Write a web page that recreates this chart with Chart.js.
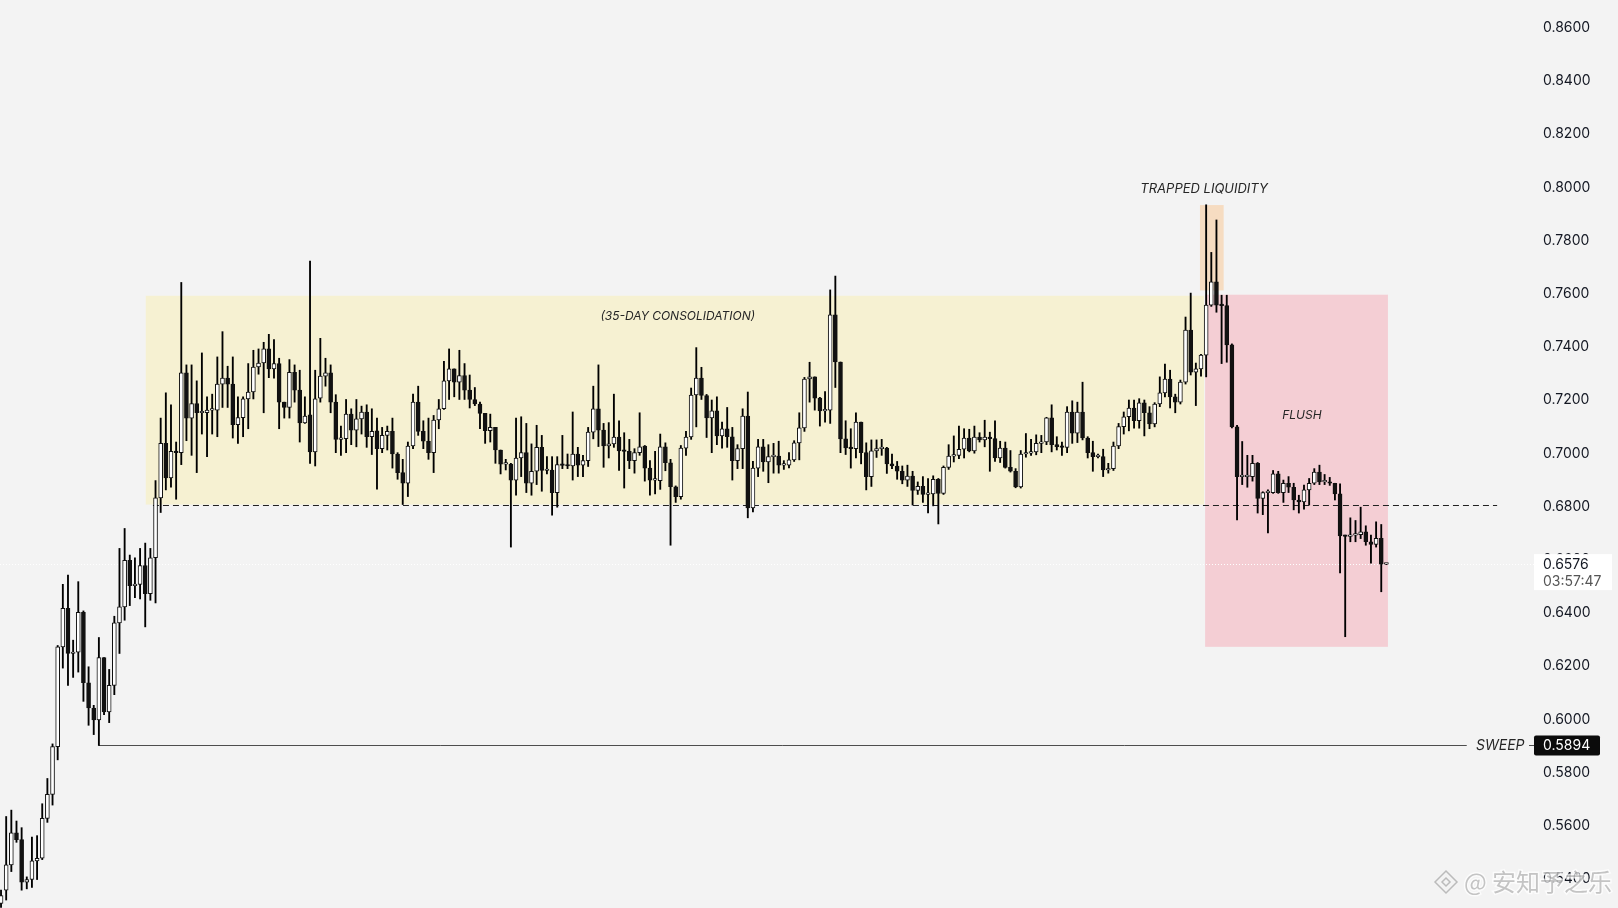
<!DOCTYPE html>
<html>
<head>
<meta charset="utf-8">
<title>4H price chart</title>
<script src="https://cdn.jsdelivr.net/npm/chart.js@4.4.1/dist/chart.umd.min.js"></script>
<style>
    html, body { margin: 0; padding: 0; background: #f3f3f3; }
    #wrap { width: 1618px; height: 908px; }
</style>
</head>
<body>
<div id="wrap"><canvas id="priceChart" width="1618" height="908"></canvas></div>
<script>
// 4H candles, oldest first
const opens = [
    0.5300, 0.5350, 0.5445, 0.5566, 0.5540, 0.5380, 0.5390, 0.5460, 0.5470, 0.5620,
    0.5710, 0.5890, 0.6265, 0.6410, 0.6240, 0.6245, 0.6395, 0.6130, 0.6035, 0.5990,
    0.6225, 0.6020, 0.6120, 0.6355, 0.6415, 0.6590, 0.6495, 0.6500, 0.6570, 0.6465,
    0.6600, 0.6825, 0.7030, 0.6900, 0.7000, 0.6995, 0.7295, 0.7125, 0.7180, 0.7145,
    0.7145, 0.7155, 0.7155, 0.7253, 0.7275, 0.7253, 0.7100, 0.7127, 0.7197, 0.7223,
    0.7317, 0.7332, 0.7385, 0.7310, 0.7330, 0.7185, 0.7165, 0.7297, 0.7230, 0.7107,
    0.7137, 0.6998, 0.7200, 0.7283, 0.7295, 0.7185, 0.7045, 0.7048, 0.7140, 0.7080,
    0.7122, 0.7148, 0.7055, 0.7077, 0.7010, 0.7060, 0.7075, 0.6990, 0.6920, 0.6880,
    0.7020, 0.7185, 0.7075, 0.7038, 0.6995, 0.7118, 0.7160, 0.7265, 0.7310, 0.7260,
    0.7285, 0.7230, 0.7195, 0.7178, 0.7143, 0.7078, 0.7090, 0.7005, 0.6952, 0.6952,
    0.6892, 0.6975, 0.6995, 0.6880, 0.6925, 0.7015, 0.6928, 0.6930, 0.6845, 0.6950,
    0.6947, 0.6945, 0.6990, 0.6948, 0.6965, 0.7072, 0.7160, 0.7080, 0.7020, 0.7028,
    0.7054, 0.7002, 0.7000, 0.6965, 0.6995, 0.7020, 0.6937, 0.6892, 0.6890, 0.7017,
    0.6957, 0.6867, 0.6830, 0.7012, 0.7054, 0.7212, 0.7275, 0.7210, 0.7126, 0.7152,
    0.7058, 0.7085, 0.7055, 0.6965, 0.7010, 0.7133, 0.6787, 0.6937, 0.7017, 0.6960,
    0.6980, 0.6982, 0.6948, 0.6948, 0.6968, 0.7032, 0.7088, 0.7272, 0.7280, 0.7200,
    0.7152, 0.7155, 0.7513, 0.7336, 0.7047, 0.7013, 0.7010, 0.7110, 0.6995, 0.6905,
    0.7002, 0.7010, 0.7012, 0.6953, 0.6945, 0.6925, 0.6892, 0.6907, 0.6853, 0.6868,
    0.6838, 0.6840, 0.6895, 0.6842, 0.6940, 0.6982, 0.6985, 0.7008, 0.7050, 0.7002,
    0.7054, 0.7043, 0.7054, 0.7048, 0.6975, 0.7012, 0.6940, 0.6925, 0.6866, 0.6990,
    0.6993, 0.6998, 0.7030, 0.7035, 0.7126, 0.7025, 0.7018, 0.7015, 0.7148, 0.7068,
    0.7148, 0.7050, 0.6995, 0.6980, 0.6980, 0.6930, 0.6935, 0.7020, 0.7093, 0.7130,
    0.7163, 0.7115, 0.7182, 0.7145, 0.7103, 0.7178, 0.7220, 0.7272, 0.7205, 0.7185,
    0.7260, 0.7456, 0.7298, 0.7310, 0.7362, 0.7550, 0.7637, 0.7550, 0.7548, 0.7400,
    0.7092, 0.6905, 0.6905, 0.6905, 0.6955, 0.6823, 0.6845, 0.6845, 0.6915, 0.6845,
    0.6880, 0.6865, 0.6817, 0.6810, 0.6855, 0.6880, 0.6922, 0.6885, 0.6885, 0.6880,
    0.6840, 0.6682, 0.6680, 0.6685, 0.6687, 0.6697, 0.6660, 0.6650, 0.6673, 0.6576
];
const highs = [
    0.5350, 0.5627, 0.5651, 0.5610, 0.5585, 0.5400, 0.5550, 0.5555, 0.5675, 0.5770,
    0.5900, 0.6270, 0.6500, 0.6535, 0.6290, 0.6510, 0.6400, 0.6190, 0.6045, 0.6300,
    0.6225, 0.6180, 0.6380, 0.6635, 0.6710, 0.6610, 0.6600, 0.6635, 0.6655, 0.6635,
    0.6890, 0.7125, 0.7220, 0.7175, 0.7035, 0.7635, 0.7325, 0.7325, 0.7265, 0.7370,
    0.7205, 0.7215, 0.7355, 0.7450, 0.7320, 0.7355, 0.7205, 0.7205, 0.7330, 0.7380,
    0.7385, 0.7410, 0.7440, 0.7420, 0.7350, 0.7185, 0.7345, 0.7325, 0.7305, 0.7205,
    0.7715, 0.7305, 0.7425, 0.7350, 0.7325, 0.7213, 0.7095, 0.7195, 0.7160, 0.7195,
    0.7170, 0.7175, 0.7160, 0.7125, 0.7090, 0.7095, 0.7125, 0.6995, 0.6970, 0.7035,
    0.7215, 0.7245, 0.7115, 0.7125, 0.7135, 0.7195, 0.7338, 0.7385, 0.7310, 0.7380,
    0.7330, 0.7287, 0.7240, 0.7185, 0.7143, 0.7140, 0.7090, 0.7005, 0.6970, 0.6955,
    0.7125, 0.7130, 0.7105, 0.7028, 0.7098, 0.7060, 0.6980, 0.6980, 0.6980, 0.7060,
    0.6990, 0.7148, 0.7015, 0.6985, 0.7090, 0.7245, 0.7325, 0.7105, 0.7108, 0.7215,
    0.7115, 0.7070, 0.7045, 0.7010, 0.7145, 0.7022, 0.6965, 0.7000, 0.7065, 0.7032,
    0.6970, 0.6870, 0.7022, 0.7075, 0.7238, 0.7390, 0.7316, 0.7214, 0.7193, 0.7205,
    0.7110, 0.7165, 0.7090, 0.7025, 0.7160, 0.7223, 0.6962, 0.7045, 0.7045, 0.7025,
    0.7030, 0.7038, 0.6965, 0.6995, 0.7040, 0.7145, 0.7278, 0.7335, 0.7280, 0.7203,
    0.7225, 0.7607, 0.7659, 0.7336, 0.7115, 0.7085, 0.7145, 0.7110, 0.7032, 0.7043,
    0.7043, 0.7045, 0.7015, 0.6990, 0.6962, 0.6945, 0.6948, 0.6925, 0.6885, 0.6905,
    0.6898, 0.6908, 0.6898, 0.6945, 0.7025, 0.7058, 0.7095, 0.7085, 0.7083, 0.7095,
    0.7070, 0.7117, 0.7072, 0.7115, 0.7038, 0.7035, 0.7003, 0.6935, 0.7003, 0.7067,
    0.7045, 0.7062, 0.7060, 0.7128, 0.7175, 0.7055, 0.7035, 0.7168, 0.7190, 0.7185,
    0.7260, 0.7055, 0.7038, 0.6990, 0.7008, 0.6955, 0.7035, 0.7105, 0.7148, 0.7193,
    0.7193, 0.7198, 0.7193, 0.7168, 0.7183, 0.7280, 0.7328, 0.7305, 0.7215, 0.7268,
    0.7505, 0.7595, 0.7332, 0.7365, 0.7927, 0.7748, 0.7870, 0.7587, 0.7587, 0.7404,
    0.7098, 0.7037, 0.6985, 0.6985, 0.6958, 0.6848, 0.6855, 0.6928, 0.6925, 0.6892,
    0.6905, 0.6880, 0.6835, 0.6873, 0.6898, 0.6935, 0.6948, 0.6913, 0.6902, 0.6880,
    0.6878, 0.6685, 0.6750, 0.6740, 0.6790, 0.6720, 0.6685, 0.6735, 0.6725, 0.6578
];
const lows = [
    0.5285, 0.5313, 0.5420, 0.5530, 0.5350, 0.5355, 0.5360, 0.5390, 0.5465, 0.5605,
    0.5670, 0.5840, 0.6185, 0.6120, 0.6150, 0.6170, 0.6060, 0.5970, 0.5935, 0.5894,
    0.6010, 0.5980, 0.6085, 0.6240, 0.6365, 0.6420, 0.6450, 0.6445, 0.6340, 0.6440,
    0.6430, 0.6770, 0.6855, 0.6865, 0.6820, 0.6950, 0.7040, 0.6985, 0.6920, 0.7065,
    0.6980, 0.7065, 0.7055, 0.7165, 0.7165, 0.7050, 0.7030, 0.7055, 0.7085, 0.7197,
    0.7290, 0.7145, 0.7277, 0.7275, 0.7085, 0.7125, 0.7125, 0.7185, 0.7035, 0.7105,
    0.6955, 0.6945, 0.7185, 0.7245, 0.7145, 0.6995, 0.6985, 0.6995, 0.7025, 0.7017,
    0.7065, 0.7015, 0.6988, 0.6858, 0.6995, 0.7005, 0.6937, 0.6895, 0.6800, 0.6830,
    0.7010, 0.7060, 0.7010, 0.6970, 0.6920, 0.7085, 0.7158, 0.7195, 0.7205, 0.7195,
    0.7195, 0.7163, 0.7172, 0.7085, 0.7030, 0.7035, 0.6955, 0.6915, 0.6930, 0.6640,
    0.6835, 0.6905, 0.6845, 0.6835, 0.6875, 0.6850, 0.6915, 0.6760, 0.6790, 0.6935,
    0.6935, 0.6892, 0.6905, 0.6905, 0.6943, 0.7047, 0.7018, 0.6940, 0.6975, 0.7015,
    0.6928, 0.6862, 0.6935, 0.6918, 0.6985, 0.6888, 0.6835, 0.6840, 0.6857, 0.6927,
    0.6647, 0.6808, 0.6820, 0.6985, 0.7045, 0.7092, 0.7195, 0.7052, 0.6995, 0.7025,
    0.7012, 0.7015, 0.6892, 0.6935, 0.6935, 0.6750, 0.6772, 0.6905, 0.6925, 0.6882,
    0.6918, 0.6918, 0.6932, 0.6938, 0.6962, 0.6968, 0.7075, 0.7185, 0.7155, 0.7095,
    0.7110, 0.7105, 0.7240, 0.6995, 0.6988, 0.6937, 0.6975, 0.6953, 0.6855, 0.6868,
    0.6977, 0.6985, 0.6917, 0.6935, 0.6895, 0.6878, 0.6868, 0.6798, 0.6838, 0.6808,
    0.6768, 0.6795, 0.6727, 0.6838, 0.6932, 0.6960, 0.6972, 0.6975, 0.6998, 0.6993,
    0.7035, 0.7017, 0.6925, 0.6962, 0.6958, 0.6937, 0.6922, 0.6863, 0.6862, 0.6978,
    0.6985, 0.6987, 0.6995, 0.7025, 0.6998, 0.7005, 0.6985, 0.6995, 0.7030, 0.7033,
    0.7043, 0.6975, 0.6925, 0.6975, 0.6905, 0.6918, 0.6928, 0.7010, 0.7065, 0.7077,
    0.7087, 0.7087, 0.7058, 0.7085, 0.7092, 0.7168, 0.7205, 0.7163, 0.7145, 0.7178,
    0.7253, 0.7287, 0.7172, 0.7283, 0.7280, 0.7545, 0.7523, 0.7330, 0.7335, 0.7088,
    0.6742, 0.6875, 0.6865, 0.6888, 0.6768, 0.6762, 0.6693, 0.6842, 0.6842, 0.6808,
    0.6845, 0.6780, 0.6768, 0.6783, 0.6798, 0.6875, 0.6875, 0.6875, 0.6872, 0.6817,
    0.6543, 0.6303, 0.6660, 0.6660, 0.6672, 0.6647, 0.6580, 0.6640, 0.6472, 0.6574
];
const closes = [
    0.5330, 0.5445, 0.5566, 0.5540, 0.5380, 0.5390, 0.5460, 0.5470, 0.5620, 0.5710,
    0.5890, 0.6265, 0.6410, 0.6240, 0.6245, 0.6395, 0.6130, 0.6035, 0.5990, 0.6225,
    0.6020, 0.6120, 0.6355, 0.6415, 0.6590, 0.6495, 0.6500, 0.6570, 0.6465, 0.6600,
    0.6825, 0.7030, 0.6900, 0.7000, 0.6995, 0.7295, 0.7125, 0.7180, 0.7145, 0.7145,
    0.7155, 0.7155, 0.7253, 0.7275, 0.7253, 0.7100, 0.7127, 0.7197, 0.7223, 0.7317,
    0.7332, 0.7385, 0.7310, 0.7330, 0.7185, 0.7165, 0.7297, 0.7230, 0.7107, 0.7133,
    0.6998, 0.7197, 0.7283, 0.7295, 0.7185, 0.7045, 0.7048, 0.7140, 0.7080, 0.7122,
    0.7148, 0.7055, 0.7075, 0.7010, 0.7060, 0.7075, 0.6990, 0.6920, 0.6880, 0.7020,
    0.7185, 0.7075, 0.7038, 0.6995, 0.7118, 0.7160, 0.7265, 0.7310, 0.7260, 0.7285,
    0.7230, 0.7195, 0.7178, 0.7143, 0.7078, 0.7090, 0.7005, 0.6952, 0.6952, 0.6892,
    0.6975, 0.6995, 0.6880, 0.6925, 0.7015, 0.6928, 0.6930, 0.6845, 0.6950, 0.6947,
    0.6945, 0.6990, 0.6948, 0.6965, 0.7072, 0.7160, 0.7080, 0.7020, 0.7028, 0.7054,
    0.7002, 0.7000, 0.6965, 0.6995, 0.7017, 0.6937, 0.6892, 0.6892, 0.7017, 0.6957,
    0.6867, 0.6830, 0.7012, 0.7054, 0.7212, 0.7275, 0.7210, 0.7126, 0.7152, 0.7058,
    0.7085, 0.7055, 0.6965, 0.7010, 0.7133, 0.6787, 0.6937, 0.7017, 0.6960, 0.6980,
    0.6982, 0.6948, 0.6948, 0.6968, 0.7032, 0.7088, 0.7272, 0.7280, 0.7200, 0.7152,
    0.7155, 0.7513, 0.7336, 0.7047, 0.7013, 0.7010, 0.7110, 0.6995, 0.6905, 0.7002,
    0.7010, 0.7012, 0.6953, 0.6945, 0.6925, 0.6892, 0.6907, 0.6853, 0.6868, 0.6838,
    0.6840, 0.6895, 0.6842, 0.6940, 0.6982, 0.6985, 0.7008, 0.7050, 0.7002, 0.7054,
    0.7043, 0.7054, 0.7048, 0.6975, 0.7012, 0.6940, 0.6925, 0.6866, 0.6990, 0.6993,
    0.6998, 0.7030, 0.7035, 0.7126, 0.7025, 0.7018, 0.7015, 0.7148, 0.7068, 0.7148,
    0.7050, 0.6995, 0.6980, 0.6980, 0.6930, 0.6935, 0.7020, 0.7093, 0.7130, 0.7163,
    0.7115, 0.7182, 0.7145, 0.7103, 0.7178, 0.7220, 0.7272, 0.7205, 0.7185, 0.7260,
    0.7456, 0.7298, 0.7310, 0.7362, 0.7550, 0.7637, 0.7550, 0.7548, 0.7400, 0.7092,
    0.6905, 0.6905, 0.6905, 0.6955, 0.6823, 0.6845, 0.6845, 0.6915, 0.6845, 0.6880,
    0.6865, 0.6817, 0.6810, 0.6855, 0.6880, 0.6922, 0.6885, 0.6885, 0.6880, 0.6840,
    0.6682, 0.6680, 0.6685, 0.6687, 0.6697, 0.6660, 0.6650, 0.6673, 0.6576, 0.6576
];

// Price axis labels
const priceTicks = [0.54, 0.56, 0.58, 0.60, 0.62, 0.64, 0.66, 0.68, 0.70, 0.72, 0.74, 0.76, 0.78, 0.80, 0.82, 0.84, 0.86];

// Key levels
const lastPrice = 0.6576;
const countdown = '03:57:47';
const sweepLow = 0.5894;
const rangeLow = 0.68;

// Highlighted zones (candle index range, price range)
const zones = [
    { text: '(35-DAY CONSOLIDATION)', from: 28.1, to: 233.6, low: 0.6800, high: 0.7585, color: '#f6f1d2', textAt: [131.4, 0.7509], size: 12 },
    { text: 'TRAPPED LIQUIDITY', from: 232.8, to: 237.4, low: 0.7605, high: 0.7926, color: '#f6dcc1', textAt: [233.6, 0.7986], size: 13 },
    { text: 'FLUSH', from: 233.8, to: 269.3, low: 0.6265, high: 0.7589, color: '#f4ced4', textAt: [252.6, 0.7137], size: 12 }
];

const INK = '#111111';
const LABEL_FONT = '14px Inter';

/**
 * Zones, level lines and labels drawn with the chart's own scales
 */
const overlayPlugin = {
    id: 'overlays',
    beforeDatasetsDraw(chart) {
        const { ctx, chartArea } = chart;
        const x = chart.scales.x;
        const y = chart.scales.y;
        ctx.save();

        zones.forEach(z => {
            const left = x.getPixelForValue(z.from);
            const right = x.getPixelForValue(z.to);
            const top = y.getPixelForValue(z.high);
            const bottom = y.getPixelForValue(z.low);
            ctx.fillStyle = z.color;
            ctx.fillRect(left, top, right - left, bottom - top);
        });

        // last price dotted line
        const py = Math.round(y.getPixelForValue(lastPrice)) + 0.5;
        ctx.strokeStyle = '#ffffff';
        ctx.lineWidth = 1;
        ctx.setLineDash([1, 2]);
        ctx.beginPath();
        ctx.moveTo(chartArea.left, py);
        ctx.lineTo(chartArea.right + 7, py);
        ctx.stroke();

        // range low
        const ry = Math.round(y.getPixelForValue(rangeLow)) + 0.5;
        ctx.strokeStyle = '#222222';
        ctx.setLineDash([6, 4]);
        ctx.beginPath();
        ctx.moveTo(x.getPixelForValue(29.5), ry);
        ctx.lineTo(x.getPixelForValue(290.5), ry);
        ctx.stroke();

        // sweep level
        const sy = Math.round(y.getPixelForValue(sweepLow)) + 0.5;
        ctx.setLineDash([]);
        ctx.strokeStyle = '#4d4d4d';
        ctx.beginPath();
        ctx.moveTo(x.getPixelForValue(19), sy);
        ctx.lineTo(x.getPixelForValue(284.6), sy);
        ctx.stroke();

        ctx.restore();
    },
    afterDraw(chart) {
        const { ctx, chartArea } = chart;
        const x = chart.scales.x;
        const y = chart.scales.y;
        ctx.save();

        // zone notes
        ctx.fillStyle = '#262626';
        ctx.textAlign = 'center';
        ctx.textBaseline = 'middle';
        zones.forEach(z => {
            ctx.font = `italic 400 ${z.size}px Inter`;
            ctx.fillText(z.text, x.getPixelForValue(z.textAt[0]), y.getPixelForValue(z.textAt[1]));
        });

        // sweep note, dash and price tag
        const sy = y.getPixelForValue(sweepLow);
        ctx.font = 'italic 400 14px Inter';
        ctx.textAlign = 'left';
        ctx.fillText('SWEEP', x.getPixelForValue(286.4), sy);
        ctx.strokeStyle = '#4d4d4d';
        ctx.lineWidth = 1;
        ctx.beginPath();
        ctx.moveTo(chartArea.right + 2, Math.round(sy) + 0.5);
        ctx.lineTo(chartArea.right + 7, Math.round(sy) + 0.5);
        ctx.stroke();

        const tagLeft = chartArea.right + 7;
        ctx.fillStyle = '#0b0b0b';
        ctx.beginPath();
        ctx.roundRect(tagLeft, sy - 10, 66, 20, 2);
        ctx.fill();
        ctx.font = LABEL_FONT;
        ctx.fillStyle = '#ffffff';
        ctx.fillText(sweepLow.toFixed(4), chartArea.right + 16, sy + 0.5);

        // last price tag with countdown
        const py = y.getPixelForValue(lastPrice);
        ctx.fillStyle = '#ffffff';
        ctx.fillRect(tagLeft, py - 10, 78, 36);
        ctx.fillStyle = '#131722';
        ctx.fillText(lastPrice.toFixed(4), chartArea.right + 16, py + 1);
        ctx.fillStyle = '#555555';
        ctx.fillText(countdown, chartArea.right + 16, py + 18);

        // watermark
        const wy = 882;
        ctx.strokeStyle = 'rgba(150,150,150,0.6)';
        ctx.lineWidth = 1.5;
        ctx.beginPath();
        ctx.moveTo(1446, wy - 11); ctx.lineTo(1457, wy); ctx.lineTo(1446, wy + 11); ctx.lineTo(1435, wy); ctx.closePath();
        ctx.stroke();
        ctx.beginPath();
        ctx.moveTo(1446, wy - 4); ctx.lineTo(1450, wy); ctx.lineTo(1446, wy + 4); ctx.lineTo(1442, wy); ctx.closePath();
        ctx.stroke();
        ctx.font = '24px "Noto Sans CJK SC"';
        ctx.lineWidth = 3;
        ctx.strokeStyle = 'rgba(255,255,255,0.7)';
        ctx.fillStyle = 'rgba(140,140,140,0.5)';
        ctx.textBaseline = 'middle';
        ctx.strokeText('@ 安知予之乐', 1464, wy);
        ctx.fillText('@ 安知予之乐', 1464, wy);

        ctx.restore();
    }
};

/**
 * Build the candlestick chart from floating bars: one set for wicks, one for bodies
 */
function createPriceChart() {
    const canvas = document.getElementById('priceChart');
    const index = opens.map((_, i) => i);

    const bodies = index.map(i => ({ x: i, y: [opens[i], closes[i]] }));
    const wicks = index.map(i => ({ x: i, y: [lows[i], highs[i]] }));
    const bodyColors = index.map(i => (closes[i] >= opens[i] ? '#ffffff' : INK));

    return new Chart(canvas, {
        type: 'bar',
        data: {
            datasets: [
                {
                    label: 'Body',
                    data: bodies,
                    backgroundColor: bodyColors,
                    borderColor: INK,
                    borderWidth: 1,
                    borderSkipped: false,
                    barThickness: 4,
                    minBarLength: 1.5,
                    grouped: false,
                    order: 0
                },
                {
                    label: 'Wick',
                    data: wicks,
                    backgroundColor: '#000000',
                    borderWidth: 0,
                    barThickness: 1.2,
                    grouped: false,
                    order: 1
                }
            ]
        },
        options: {
            responsive: false,
            animation: false,
            devicePixelRatio: 1,
            layout: { padding: 0 },
            plugins: {
                legend: { display: false },
                tooltip: { enabled: false }
            },
            scales: {
                x: {
                    type: 'linear',
                    min: -0.2,
                    max: 296.3,
                    offset: false,
                    display: false
                },
                y: {
                    position: 'right',
                    min: 0.5283,
                    max: 0.8697,
                    beginAtZero: false,
                    afterBuildTicks: scale => {
                        scale.ticks = priceTicks.map(v => ({ value: v }));
                    },
                    afterFit: scale => {
                        scale.width = 91;
                        scale.paddingTop = 0;
                        scale.paddingBottom = 0;
                    },
                    ticks: {
                        padding: 16,
                        labelOffset: 2,
                        color: '#131722',
                        font: { family: 'Inter', size: 14 },
                        callback: v => Number(v).toFixed(4)
                    },
                    grid: { display: false, drawTicks: false },
                    border: { display: false }
                }
            }
        },
        plugins: [overlayPlugin]
    });
}

createPriceChart();
</script>
</body>
</html>
